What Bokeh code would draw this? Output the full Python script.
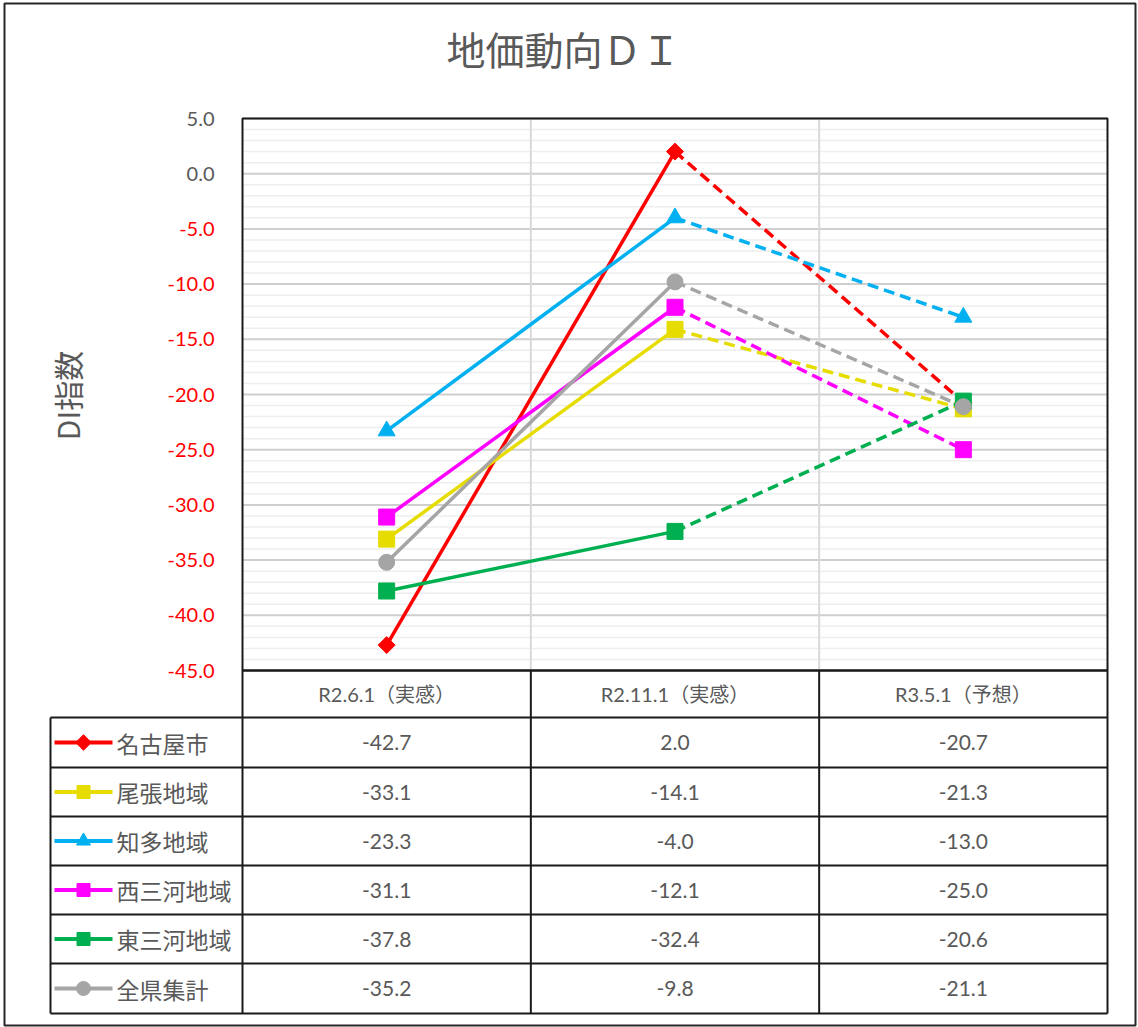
import numpy as np
from bokeh.plotting import figure
from bokeh.models import Range1d, ColumnDataSource
from bokeh.core.properties import value
from bokeh.embed import file_html
from bokeh.resources import INLINE

# ---- data -------------------------------------------------------------
categories = ["R2.6.1（実感）", "R2.11.1（実感）", "R3.5.1（予想）"]
series_names = ["名古屋市", "尾張地域", "知多地域", "西三河地域", "東三河地域", "全県集計"]
nagoya = [-42.7, 2.0, -20.7]
owari = [-33.1, -14.1, -21.3]
chita = [-23.3, -4.0, -13.0]
nishi_mikawa = [-31.1, -12.1, -25.0]
higashi_mikawa = [-37.8, -32.4, -20.6]
zenken = [-35.2, -9.8, -21.1]
y_ticks = [5.0, 0.0, -5.0, -10.0, -15.0, -20.0, -25.0, -30.0, -35.0, -40.0, -45.0]

series_values = [nagoya, owari, chita, nishi_mikawa, higashi_mikawa, zenken]

# ---- styles -----------------------------------------------------------
colors = ["#FF0000", "#E6DC00", "#00B0F0", "#FF00FF", "#00B050", "#A5A5A5"]
markers = ["square", "square", "triangle", "square", "square", "circle"]
marker_angles = [np.pi / 4, 0, 0, 0, 0, 0]
marker_sizes = [12, 16, 17, 16, 16, 16]
key_sizes = [11, 13, 14, 13, 13, 14]
TEXT_GREY = "#595959"
NUM_FONT = value("Lato, 'Noto Sans CJK JP'")
JP_FONT = value("Noto Sans CJK JP")

W, H = 1138, 1027
# plot area in page pixels
PL, PR, PT, PB = 242, 1107, 118, 670
Y_MAX, Y_MIN = 5.0, -45.0
N_CAT = len(categories)
XS = (PR - PL) / N_CAT          # pixels per category
YS = (PB - PT) / (Y_MAX - Y_MIN)  # pixels per DI unit


def X(px):
    return (px - PL) / XS


def Y(py):
    return Y_MAX - (py - PT) / YS


p = figure(width=W, height=H,
           x_range=Range1d(X(0), X(W)), y_range=Range1d(Y(H), Y(0)),
           x_axis_location=None, y_axis_location=None,
           toolbar_location=None, output_backend="svg", min_border=0,
           background_fill_color="white", border_fill_color="white",
           outline_line_color=None)
p.grid.visible = False

cat_x = [i + 0.5 for i in range(N_CAT)]

# ---- gridlines --------------------------------------------------------
minor = [v for v in range(int(Y_MIN), int(Y_MAX) + 1) if v % 5 != 0]
p.segment(x0=0, x1=N_CAT, y0=minor, y1=minor, line_color="#EEEEEE", line_width=1.5)
p.segment(x0=0, x1=N_CAT, y0=y_ticks, y1=y_ticks, line_color="#CFCFCF", line_width=2)
p.segment(x0=[1, 2], x1=[1, 2], y0=Y_MIN, y1=Y_MAX, line_color="#D9D9D9", line_width=2)

# ---- series -----------------------------------------------------------
for vals, c, m, a, s in zip(series_values, colors, markers, marker_angles, marker_sizes):
    p.line(x=cat_x[:2], y=vals[:2], line_color=c, line_width=3.5)
    p.line(x=cat_x[1:], y=vals[1:], line_color=c, line_width=3.5, line_dash="11 6")
    p.scatter(x=cat_x, y=vals, marker=m, angle=a, size=s,
              fill_color=c, line_color=c, line_width=1)

# plot area frame
p.quad(left=0, right=N_CAT, bottom=Y_MIN, top=Y_MAX,
       fill_color=None, line_color="#1A1A1A", line_width=2)

# ---- y tick labels and axis title ------------------------------------
tick_colors = [TEXT_GREY if t >= 0 else "#FF0000" for t in y_ticks]
tick_src = ColumnDataSource(dict(y=y_ticks, txt=[f"{t:.1f}" for t in y_ticks], c=tick_colors))
p.text(x=X(214), y="y", text="txt", source=tick_src, text_color="c",
       text_align="right", text_baseline="middle", text_font=NUM_FONT,
       text_font_size="20px")
p.text(x=[X(66)], y=[Y(395)], text=["DI指数"], angle=np.pi / 2,
       text_align="center", text_baseline="middle", text_color=TEXT_GREY,
       text_font=JP_FONT, text_font_size="30px")

# chart title
p.text(x=[X(563)], y=[Y(47)], text=["地価動向ＤＩ"], text_align="center",
       text_baseline="middle", text_color=TEXT_GREY, text_font=JP_FONT,
       text_font_size="39px")

# ---- data table -------------------------------------------------------
row_edges = [670, 717, 767, 816, 865, 914, 963, 1013]
TL = 50  # table left edge (legend column)
ry = [Y(r) for r in row_edges]
# horizontal rules
p.segment(x0=0, x1=N_CAT, y0=ry[0], y1=ry[0], line_color="#1A1A1A", line_width=2)
p.segment(x0=X(TL), x1=N_CAT, y0=ry[1:], y1=ry[1:], line_color="#1A1A1A", line_width=2)
# vertical rules
p.segment(x0=[0, 1, 2, 3], x1=[0, 1, 2, 3], y0=ry[0], y1=ry[-1],
          line_color="#1A1A1A", line_width=2)
p.segment(x0=X(TL), x1=X(TL), y0=ry[1], y1=ry[-1], line_color="#1A1A1A", line_width=2)

# header row
p.text(x=cat_x, y=Y((row_edges[0] + row_edges[1]) / 2), text=categories,
       text_align="center", text_baseline="middle", text_color=TEXT_GREY,
       text_font=NUM_FONT, text_font_size="20px")

row_mid = [Y((row_edges[i] + row_edges[i + 1]) / 2) for i in range(1, len(row_edges) - 1)]
for i, (name, vals, c, m, a, ks) in enumerate(zip(series_names, series_values, colors,
                                                   markers, marker_angles, key_sizes)):
    ym = row_mid[i]
    # legend key
    p.line(x=[X(54), X(112)], y=[ym, ym], line_color=c, line_width=4)
    p.scatter(x=[X(83)], y=[ym], marker=m, angle=a, size=ks, fill_color=c, line_color=c)
    p.text(x=[X(116)], y=[ym], text=[name], text_align="left", text_baseline="middle",
           text_color=TEXT_GREY, text_font=JP_FONT, text_font_size="23px")
    # values
    p.text(x=cat_x, y=ym, text=[f"{v:.1f}" for v in vals], text_align="center",
           text_baseline="middle", text_color=TEXT_GREY, text_font=NUM_FONT,
           text_font_size="21px")

# outer chart border
p.quad(left=X(4), right=X(1135), bottom=Y(1025), top=Y(3),
       fill_color=None, line_color="#262626", line_width=2)

open("out.html", "w").write(file_html(p, INLINE))
